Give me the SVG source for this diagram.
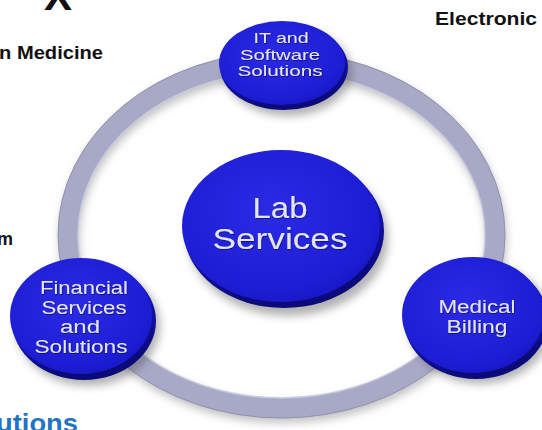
<svg xmlns="http://www.w3.org/2000/svg" width="542" height="430" viewBox="0 0 542 430">
<defs>
<radialGradient id="face" cx="0.45" cy="0.4" r="0.65">
<stop offset="0" stop-color="#2b2be6"/>
<stop offset="0.8" stop-color="#1d1dd4"/>
<stop offset="1" stop-color="#1616c4"/>
</radialGradient>
<linearGradient id="rim" x1="0" y1="0" x2="0.3" y2="1">
<stop offset="0" stop-color="#3a3af0"/>
<stop offset="0.6" stop-color="#1212a8"/>
<stop offset="1" stop-color="#0a0a78"/>
</linearGradient>
<filter id="shadow" x="-30%" y="-30%" width="160%" height="160%">
<feGaussianBlur stdDeviation="4"/>
</filter>
<filter id="ts" x="-10%" y="-30%" width="120%" height="160%">
<feDropShadow dx="0.6" dy="0.8" stdDeviation="0.4" flood-color="#000040" flood-opacity="0.7"/>
</filter>
</defs>
<style>
.bg{font-family:"Liberation Sans",Arial,sans-serif;font-weight:bold;fill:#111}
.lbl{font-family:"Liberation Sans",Arial,sans-serif;fill:#e4e4ee;text-anchor:middle;filter:url(#ts)}
.face{fill:url(#face)}
.rim{fill:url(#rim)}
.sh{fill:#555;opacity:0.45;filter:url(#shadow)}
</style>
<rect width="542" height="430" fill="#ffffff"/>
<g id="background-text">
<text class="bg" x="44" y="10" font-size="40" textLength="28" lengthAdjust="spacingAndGlyphs">X</text>
<text class="bg" x="-1" y="59" font-size="18" textLength="104" lengthAdjust="spacingAndGlyphs">n Medicine</text>
<text class="bg" x="435" y="25" font-size="19" textLength="102" lengthAdjust="spacingAndGlyphs">Electronic</text>
<text class="bg" x="-3" y="245" font-size="18">m</text>
<text x="-4" y="432" font-size="26" font-family="Liberation Sans, Arial, sans-serif" font-weight="bold" fill="#1f74c4" textLength="82" lengthAdjust="spacingAndGlyphs">utions</text>
</g>
<g id="connectors">
<ellipse cx="283" cy="240" rx="213.5" ry="173" fill="none" stroke="#777" stroke-opacity="0.45" stroke-width="20" filter="url(#shadow)"/>
<ellipse cx="281.5" cy="235" rx="213.5" ry="173" fill="none" stroke="#a8a9c7" stroke-width="20"/>
<ellipse cx="281.5" cy="235" rx="203.5" ry="163" fill="none" stroke="#c9cae0" stroke-width="1.5"/>
<ellipse cx="281.5" cy="235" rx="223.5" ry="183" fill="none" stroke="#9091b0" stroke-width="1"/>
</g>
<g id="node-it">
<ellipse class="sh" cx="288" cy="72" rx="64" ry="44"/>
<ellipse class="rim" cx="284" cy="67" rx="64" ry="43"/>
<ellipse class="face" cx="282" cy="63" rx="63" ry="42"/>
<text class="lbl" x="281" y="43" font-size="15" textLength="55" lengthAdjust="spacingAndGlyphs">IT and</text>
<text class="lbl" x="280" y="60" font-size="15" textLength="80" lengthAdjust="spacingAndGlyphs">Software</text>
<text class="lbl" x="280" y="76" font-size="15" textLength="85" lengthAdjust="spacingAndGlyphs">Solutions</text>
</g>
<g id="node-lab">
<ellipse class="sh" cx="288" cy="238" rx="100" ry="78"/>
<ellipse class="rim" cx="284" cy="231" rx="100" ry="77"/>
<ellipse class="face" cx="281" cy="226" rx="99" ry="76"/>
<text class="lbl" x="280" y="218" font-size="30" textLength="55" lengthAdjust="spacingAndGlyphs">Lab</text>
<text class="lbl" x="280" y="249" font-size="30" textLength="135" lengthAdjust="spacingAndGlyphs">Services</text>
</g>
<g id="node-financial">
<ellipse class="sh" cx="88" cy="326" rx="72" ry="60"/>
<ellipse class="rim" cx="84" cy="321" rx="72" ry="59"/>
<ellipse class="face" cx="81" cy="316" rx="71" ry="58"/>
<text class="lbl" x="84" y="294" font-size="18" textLength="88" lengthAdjust="spacingAndGlyphs">Financial</text>
<text class="lbl" x="84" y="314" font-size="18" textLength="85" lengthAdjust="spacingAndGlyphs">Services</text>
<text class="lbl" x="80" y="333" font-size="18" textLength="40" lengthAdjust="spacingAndGlyphs">and</text>
<text class="lbl" x="81" y="353" font-size="18" textLength="93" lengthAdjust="spacingAndGlyphs">Solutions</text>
</g>
<g id="node-medical">
<ellipse class="sh" cx="480" cy="324" rx="72" ry="60"/>
<ellipse class="rim" cx="476" cy="320" rx="72" ry="59"/>
<ellipse class="face" cx="473" cy="315" rx="71" ry="58"/>
<text class="lbl" x="477" y="313" font-size="18" textLength="77" lengthAdjust="spacingAndGlyphs">Medical</text>
<text class="lbl" x="477" y="333" font-size="18" textLength="61" lengthAdjust="spacingAndGlyphs">Billing</text>
</g>
</svg>
